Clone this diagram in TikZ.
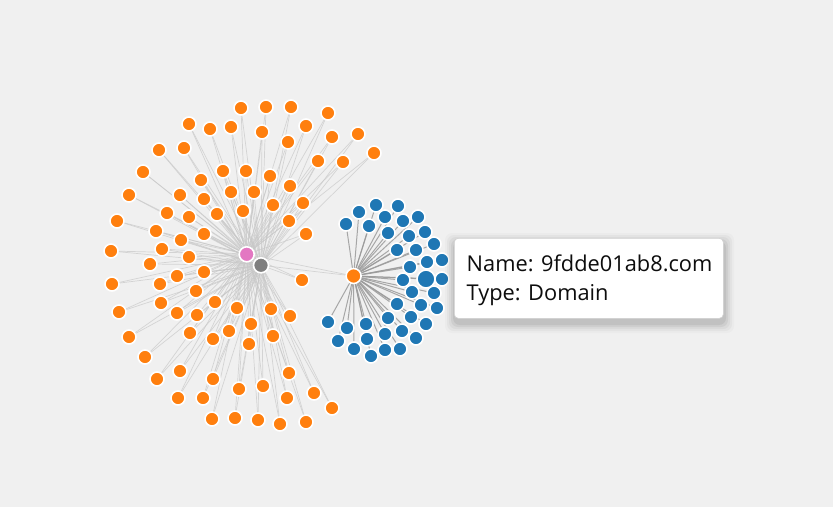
\documentclass[tikz,border=0pt]{standalone}
\usepackage{fontspec}
\setmainfont{Open Sans}
\definecolor{bg}{HTML}{F0F0F0}
\definecolor{orng}{HTML}{FF7F0E}
\definecolor{blu}{HTML}{1F77B4}
\definecolor{pnk}{HTML}{E377C2}
\definecolor{gry}{HTML}{7F7F7F}
\definecolor{ledge}{HTML}{C8C8C8}
\definecolor{bedge}{HTML}{9A9A9A}
\begin{document}
\begin{tikzpicture}[x=1pt,y=-1pt,
  dot/.style={circle,draw=white,line width=1.6pt,inner sep=0pt,minimum size=14pt},
  onode/.style={dot,fill=orng},
  bnode/.style={dot,fill=blu},
  ledgestyle/.style={draw=ledge,line width=0.7pt,opacity=0.7},
  bedgestyle/.style={draw=bedge,line width=1pt,opacity=0.85},
  tipbox/.style={draw=black!18,fill=white,rounded corners=4pt,line width=0.6pt},
  tiptext/.style={anchor=base west,inner sep=0pt,font=\fontsize{21.8}{26}\selectfont,text=black!95}]
\fill[bg] (0,0) rectangle (833,507);
\useasboundingbox (0,0) rectangle (833,507);
% coordinates
\coordinate (pc) at (246.7,254.3);
\coordinate (gc) at (261,265.3);
\coordinate (hc) at (353.6,276);
\foreach \x/\y [count=\i] in {241/108, 266/107, 291/107, 328/113, 189/124, 210/129, 231/127, 262/132, 306/126, 159/150, 184/148, 288/142, 332/137, 358/134, 374/153, 143/172, 223/171, 246/171, 318/161, 343/162, 201/180, 270/176, 129/195, 180/195, 204/199, 231/192, 254/192, 290/186, 117/221, 167/213, 189/217, 217/214, 243/211, 273/205, 303/203, 156/231, 204/234, 289/221, 181/240, 306/234, 111/251, 162/249, 189/257, 150/264, 112/284, 160/284, 177/276, 204/272, 196/291, 302/280, 161/303, 119/312, 177/313, 197/315, 215/302, 237/308, 271/309, 290/316, 251/324, 249/344, 229/331, 213/339, 190/333, 273/336, 129/337, 145/357, 180/371, 157/379, 213/379, 239/389, 263/386, 289/373, 178/398, 203/398, 287/398, 314/393, 332/408, 212/419, 235/418, 258/420, 280/424, 306/422}
  {\coordinate (oc\i) at (\x,\y);}
\foreach \x/\y [count=\i] in {376/205, 398/206, 359/212, 346/224, 369/226, 385/217, 403/221, 418/217, 388/233, 409/236, 425/232, 397/250, 416/250, 434/244, 427/262, 442/260, 410/267, 442/279, 403/280, 412/292, 434/293, 397/304, 421/305, 437/308, 328/322, 347/328, 366/324, 388/318, 411/317, 426/324, 338/341, 367/339, 385/334, 402/331, 416/338, 354/349, 385/350, 400/349, 371/356}
  {\coordinate (bc\i) at (\x,\y);}
\coordinate (bbc) at (426,279);
% edges
\foreach \i in {1,...,82} {
  \draw[ledgestyle] (pc) -- (oc\i);
  \draw[ledgestyle] (gc) -- (oc\i);
}
\draw[ledgestyle] (pc) -- (hc);
\draw[ledgestyle] (gc) -- (hc);
\foreach \i in {1,...,39} {\draw[bedgestyle] (hc) -- (bc\i);}
\draw[bedgestyle] (hc) -- (bbc);
% nodes
\foreach \i in {1,...,82} {\node[onode] (o\i) at (oc\i) {};}
\foreach \i in {1,...,39} {\node[bnode] (b\i) at (bc\i) {};}
\node[bnode,minimum size=18pt] (bb) at (bbc) {};
\node[onode,minimum size=15pt] (hub) at (hc) {};
\node[dot,fill=pnk,minimum size=15pt] (pink) at (pc) {};
\node[dot,fill=gry,minimum size=15pt] (gray) at (gc) {};
% tooltip shadow
\foreach \d/\o in {10/0.02,8/0.03,6/0.04,4/0.05,2/0.06}
  {\fill[black,opacity=\o,rounded corners=7pt] (454-\d+1,238-\d+5) rectangle (723+\d+1,318+\d+5);}
\node[tipbox,minimum width=269pt,minimum height=80pt,anchor=north west] (tip) at (454,238) {};
\node[tiptext] (t1) at (466.5,271.5) {Name: 9fdde01ab8.com};
\node[tiptext] (t2) at (466.5,300.5) {Type: Domain};
\end{tikzpicture}
\end{document}
